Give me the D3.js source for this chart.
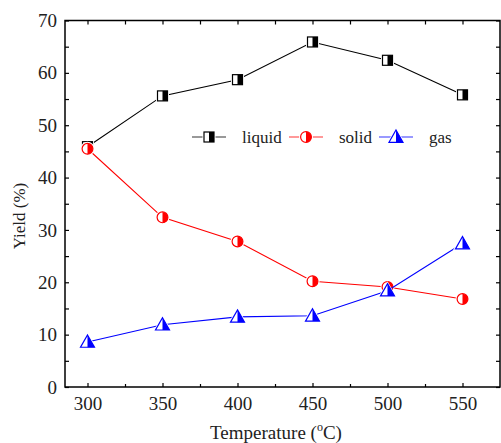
<!DOCTYPE html>
<html>
<head>
<meta charset="utf-8">
<script src="https://cdn.jsdelivr.net/npm/d3@7"></script>
<style>
  body { margin: 0; background: #fff; }
</style>
</head>
<body>
<svg id="chart" width="501" height="443"></svg>
<script>
// data
var temps = [300, 350, 400, 450, 500, 550];
var liquid = [45.9, 55.6, 58.7, 65.9, 62.4, 55.8];
var solid = [45.5, 32.4, 27.8, 20.2, 19.1, 16.8];
var gas = [8.6, 11.9, 13.4, 13.6, 18.4, 27.4];
var xTicks = [300, 350, 400, 450, 500, 550];
var yTicks = [0, 10, 20, 30, 40, 50, 60, 70];

var FONT = "'Liberation Serif', 'Times New Roman', serif";
var svg = d3.select("#chart").style("font-family", FONT);
var m = {left: 65, right: 1, top: 20.5, bottom: 56};
var W = 501, H = 443;

var x = d3.scaleLinear().domain([285, 575]).range([m.left, W - m.right]);
var y = d3.scaleLinear().domain([0, 70]).range([H - m.bottom, m.top]);

var series = [
  {name: "liquid", vals: liquid, color: "#000", legColor: "#777", shape: "square"},
  {name: "solid", vals: solid, color: "#f00", legColor: "#f77", shape: "circle"},
  {name: "gas", vals: gas, color: "#00f", legColor: "#77f", shape: "triangle"}
];

// frame
svg.append("rect")
  .attr("x", m.left).attr("y", m.top)
  .attr("width", W - m.right - m.left).attr("height", H - m.bottom - m.top)
  .attr("fill", "none").attr("stroke", "#000").attr("stroke-width", 1.5);

// axes, ticks inward
var minorX = d3.range(325, 575, 50);
var minorY = d3.range(5, 70, 10);

function tickStyle(g) {
  g.attr("font-family", FONT);
  g.select(".domain").remove();
  g.selectAll(".tick line").attr("stroke", "#000").attr("stroke-width", 1.2);
  g.selectAll("text").style("font-size", "19px").style("font-family", FONT).attr("fill", "#222");
}

svg.append("g").attr("transform", "translate(0," + (H - m.bottom) + ")")
  .call(d3.axisBottom(x).tickValues(xTicks).tickSize(-4).tickPadding(10).tickFormat(d3.format("d")))
  .call(tickStyle);
svg.append("g").attr("transform", "translate(0," + (H - m.bottom) + ")")
  .call(d3.axisBottom(x).tickValues(minorX).tickSize(-3).tickFormat(""))
  .call(tickStyle);
svg.append("g").attr("transform", "translate(0," + m.top + ")")
  .call(d3.axisTop(x).tickValues(xTicks.concat(minorX)).tickSize(-4).tickFormat(""))
  .call(tickStyle);

svg.append("g").attr("transform", "translate(" + m.left + ",0)")
  .call(d3.axisLeft(y).tickValues(yTicks).tickSize(-4).tickPadding(8))
  .call(tickStyle);
svg.append("g").attr("transform", "translate(" + m.left + ",0)")
  .call(d3.axisLeft(y).tickValues(minorY).tickSize(-4).tickFormat(""))
  .call(tickStyle);
svg.append("g").attr("transform", "translate(" + (W - m.right) + ",0)")
  .call(d3.axisRight(y).tickValues(yTicks.concat(minorY)).tickSize(-4).tickFormat(""))
  .call(tickStyle);

// markers: left half white, right half coloured, with a white halo
function marker(g, shape, color, cx, cy) {
  var grp = g.append("g").attr("transform", "translate(" + cx + "," + cy + ")");
  if (shape === "square") {
    grp.append("rect").attr("x", -6.5).attr("y", -6.5).attr("width", 13).attr("height", 13).attr("fill", "#fff");
    grp.append("rect").attr("x", -5).attr("y", -5).attr("width", 10).attr("height", 10)
      .attr("fill", "#fff").attr("stroke", color).attr("stroke-width", 1.2);
    grp.append("rect").attr("x", 0).attr("y", -5).attr("width", 5).attr("height", 10).attr("fill", color);
  } else if (shape === "circle") {
    grp.append("circle").attr("r", 7).attr("fill", "#fff");
    grp.append("circle").attr("r", 5.4).attr("fill", "#fff").attr("stroke", color).attr("stroke-width", 1.2);
    grp.append("path").attr("d", d3.arc()({innerRadius: 0, outerRadius: 5.4, startAngle: 0, endAngle: Math.PI}))
      .attr("fill", color);
  } else {
    grp.append("path").attr("d", "M0,-9.5L9.5,6.8L-9.5,6.8Z").attr("fill", "#fff");
    grp.append("path").attr("d", "M0,-7L7,5.3L-7,5.3Z").attr("fill", "#fff").attr("stroke", color).attr("stroke-width", 1.2);
    grp.append("path").attr("d", "M0,-7L7,5.3L0,5.3Z").attr("fill", color);
  }
}

var line = d3.line().x(function(d, i) { return x(temps[i]); }).y(function(d) { return y(d); });

series.forEach(function(s) {
  var g = svg.append("g");
  g.append("path").datum(s.vals).attr("d", line)
    .attr("fill", "none").attr("stroke", s.color).attr("stroke-width", 1.1);
  s.vals.forEach(function(v, i) { marker(g, s.shape, s.color, x(temps[i]), y(v)); });
});

// legend
var legY = 137;
var legX = [192, 289, 379];
series.forEach(function(s, i) {
  var g = svg.append("g").attr("transform", "translate(" + legX[i] + "," + legY + ")");
  g.append("line").attr("x1", 0).attr("x2", 34).attr("stroke", s.legColor).attr("stroke-width", 1.5);
  marker(g, s.shape, s.color, 17, 0);
  g.append("text").attr("x", 50).attr("y", 5.5).style("font-size", "17px").attr("fill", "#222").text(s.name);
});

// axis titles
svg.append("text")
  .attr("transform", "translate(25,216) rotate(-90)")
  .attr("text-anchor", "middle").style("font-size", "17px").attr("fill", "#222")
  .text("Yield (%)");

var xt = svg.append("text").attr("x", 276).attr("y", 439)
  .attr("text-anchor", "middle").style("font-size", "19px").attr("fill", "#222");
xt.append("tspan").text("Temperature (");
xt.append("tspan").attr("dy", -8).style("font-size", "12px").text("o");
xt.append("tspan").attr("dy", 8).text("C)");
</script>
</body>
</html>
